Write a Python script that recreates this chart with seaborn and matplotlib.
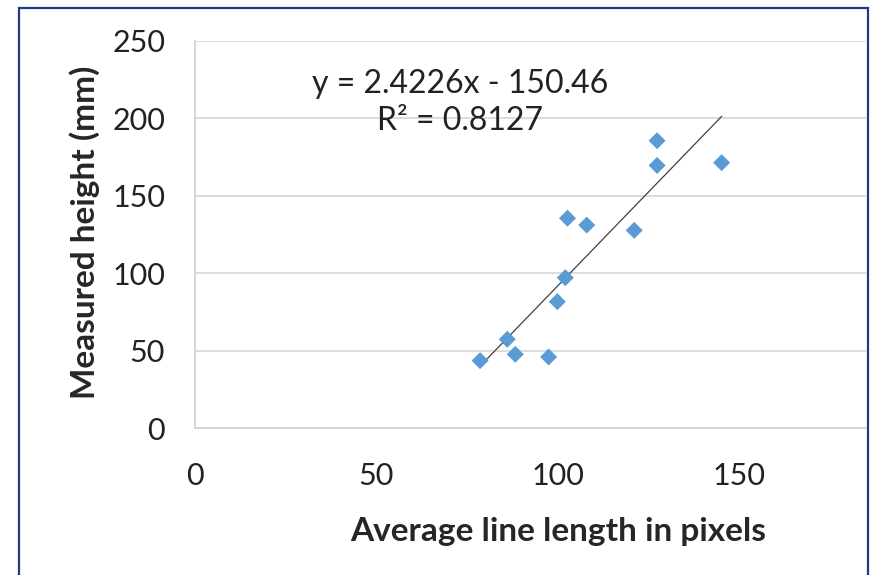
import numpy as np
import pandas as pd
import matplotlib
matplotlib.use("Agg")
import matplotlib.pyplot as plt
from matplotlib.patches import Rectangle
import seaborn as sns

# data
line_length = [78.6, 86.1, 88.3, 97.5, 99.9, 102.1, 102.7, 108.0, 121.1, 127.4, 127.4, 145.2]
height_mm = [43.5, 57.3, 47.6, 45.9, 81.6, 97.1, 135.5, 131.1, 127.7, 185.6, 169.6, 171.4]
slope = 2.4226
intercept = -150.46
r2 = 0.8127
x_ticks = [0, 50, 100, 150]
y_ticks = [0, 50, 100, 150, 200, 250]

sns.set_style("white")
plt.rcParams['font.family'] = ['Lato', 'DejaVu Sans']

df = pd.DataFrame({'length': line_length, 'height': height_mm})
x_fit = np.array([min(line_length), max(line_length)])
fit = pd.DataFrame({'length': x_fit, 'height': slope * x_fit + intercept})

fig = plt.figure(figsize=(8.71, 5.75), dpi=100)
ax = fig.add_axes([195 / 871, 1 - 428 / 575, 671 / 871, 387 / 575])

sns.scatterplot(data=df, x='length', y='height', marker='D', s=75,
                color='#5B9BD5', edgecolor='none', ax=ax, zorder=3)
sns.lineplot(data=fit, x='length', y='height', color='#404040',
             linewidth=0.9, ax=ax, zorder=2)

ax.set_xlim(0, 185)
ax.set_ylim(0, 250)
ax.set_xticks(x_ticks)
ax.set_yticks(y_ticks)
ax.yaxis.grid(True, color='#d9d9d9', linewidth=1.3)
ax.xaxis.grid(False)
ax.set_axisbelow(True)
for side in ['top', 'right']:
    ax.spines[side].set_visible(False)
for side in ['left', 'bottom']:
    ax.spines[side].set_color('#d0d0d0')
    ax.spines[side].set_linewidth(1.2)
ax.tick_params(axis='both', which='major', direction='out', length=8.5,
               width=1.0, color='#d0d0d0', labelsize=22, labelcolor='#222222')
ax.tick_params(axis='y', pad=13)
ax.tick_params(axis='x', pad=16)

ax.set_xlabel('Average line length in pixels', fontsize=24, fontweight='bold')
ax.set_ylabel('Measured height (mm)', fontsize=24, fontweight='bold')
ax.xaxis.label.set_va('center')
ax.yaxis.label.set_va('center')
ax.xaxis.set_label_coords((558 - 195) / 671, (428 - 532) / 387)
ax.yaxis.set_label_coords((85 - 195) / 671, (428 - 232) / 387)

ax.text(0.395, 0.866, f'y = {slope}x - {abs(intercept)}', transform=ax.transAxes,
        ha='center', va='baseline', fontsize=23, color='#222222')
ax.text(0.395, 0.770, f'R\u00b2 = {r2}', transform=ax.transAxes,
        ha='center', va='baseline', fontsize=23, color='#222222')

# chart border
fig.patches.append(Rectangle((19 / 871, -0.1), (868 - 19) / 871, 1.1 - 8 / 575,
                             transform=fig.transFigure, fill=False,
                             edgecolor='#1f3b82', linewidth=1.6))

fig.savefig('out.png', dpi=100)
